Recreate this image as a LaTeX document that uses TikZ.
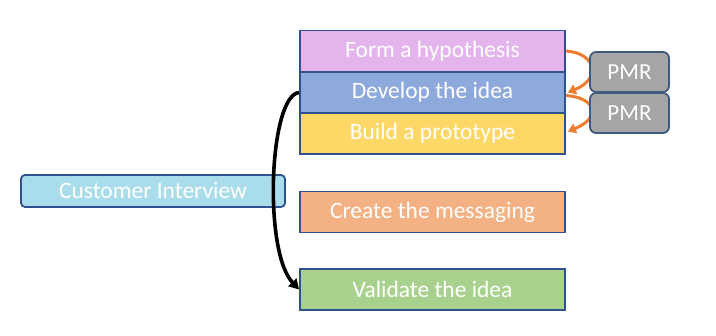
\documentclass[tikz,border=0pt]{standalone}
\usepackage{fontspec}
\setmainfont{Carlito}
\usetikzlibrary{arrows.meta}
\definecolor{hypc}{HTML}{E3B5EC}
\definecolor{devc}{HTML}{8EA9DB}
\definecolor{bldc}{HTML}{FDD866}
\definecolor{msgc}{HTML}{F4B183}
\definecolor{valc}{HTML}{A9D18E}
\definecolor{cusc}{HTML}{A9DDEC}
\definecolor{pmrc}{HTML}{A5A5A5}
\definecolor{edge}{HTML}{2F528F}
\definecolor{pmredge}{HTML}{41597C}
\definecolor{orng}{HTML}{ED7D31}
\tikzset{
  stagebox/.style={draw=edge, line width=1.8pt, minimum width=265pt, minimum height=41pt, inner sep=0pt, text=white, font=\fontsize{23.5}{26}\selectfont},
  custbox/.style={draw=edge, line width=1.8pt, rounded corners=4pt, fill=cusc, minimum width=264pt, minimum height=32pt, inner sep=0pt, text=white, font=\fontsize{23.5}{26}\selectfont},
  pmrbox/.style={draw=pmredge, line width=1.8pt, rounded corners=6pt, fill=pmrc, minimum width=79pt, minimum height=40pt, inner sep=0pt, text=white, font=\fontsize{23}{26}\selectfont},
  orarrow/.style={draw=orng, line width=3pt, -{Triangle[length=8pt,width=10pt]}},
  blkarrow/.style={draw=black, line width=3.6pt, -{Triangle[length=10pt,width=11pt]}}
}
\begin{document}
\begin{tikzpicture}[x=1pt, y=-1pt]
\useasboundingbox (0,0) rectangle (716,336);
\node[stagebox, fill=hypc] (hyp) at (432.5,51) {Form a hypothesis};
\node[stagebox, fill=devc] (dev) at (432.5,92.5) {Develop the idea};
\node[stagebox, fill=bldc] (bld) at (432.5,133.5) {Build a prototype};
\node[stagebox, fill=msgc] (msg) at (432.5,212) {Create the messaging};
\node[stagebox, fill=valc] (val) at (432.5,289.5) {Validate the idea};
\node[custbox] (cus) at (153,191) {Customer Interview};
\draw[orarrow] (hyp.east) .. controls +(30,2) and +(34,-14) .. ([xshift=2pt]dev.east);
\draw[orarrow] ([yshift=-3pt]dev.east) .. controls +(30,2) and +(34,-14) .. ([xshift=2pt,yshift=2pt]bld.east);
\node[pmrbox] (pmr1) at (629.5,72) {PMR};
\node[pmrbox] (pmr2) at (629.5,113) {PMR};
\draw[blkarrow] (dev.west) .. controls +(-30,3) and +(-36,-38) .. (val.west);
\end{tikzpicture}
\end{document}
